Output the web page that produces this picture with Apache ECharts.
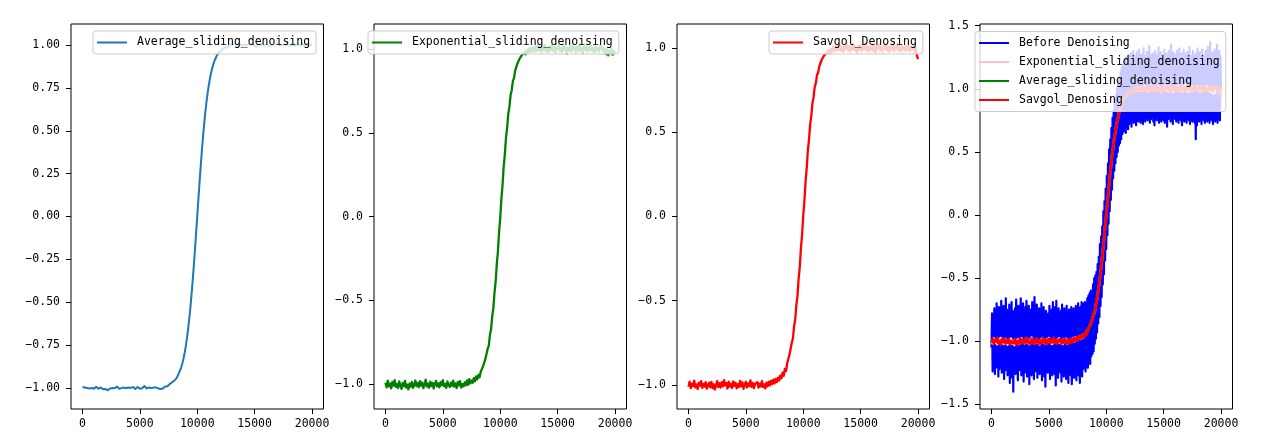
<!DOCTYPE html>
<html><head><meta charset="utf-8">
<script src="https://cdn.jsdelivr.net/npm/echarts@6/dist/echarts.min.js"></script>
<style>html,body{margin:0;padding:0;background:#fff}#c{width:1261px;height:443px}</style>
</head><body><div id="c"></div>
<script>
// sample spacing (x units) of the series below
const smoothStep = 100;
const rawStep = 50;
const xTicks = [0, 5000, 10000, 15000, 20000];
const yTicks1 = [-1, -0.75, -0.5, -0.25, 0, 0.25, 0.5, 0.75, 1];
const yTicks23 = [-1, -0.5, 0, 0.5, 1];
const yTicks4 = [-1.5, -1, -0.5, 0, 0.5, 1, 1.5];
const seriesNames = ['Average_sliding_denoising', 'Exponential_sliding_denoising', 'Savgol_Denosing', 'Before Denoising'];

const avgSliding = [-0.995,-1.003,-0.998,-1.008,-1.002,-0.996,-1.004,-1.010,-1.001,-0.997,
-1.005,-1.002,-0.994,-0.999,-1.006,-1.003,-0.998,-1.004,-1.009,-1.000,
-1.007,-1.013,-1.015,-1.010,-1.004,-0.998,-1.002,-0.995,-1.003,-0.999,
-0.993,-1.001,-1.006,-0.997,-1.002,-1.008,-0.999,-0.994,-1.003,-1.005,
-0.998,-0.992,-1.001,-1.004,-0.996,-1.003,-1.007,-1.000,-0.995,-1.002,
-1.006,-0.999,-1.003,-0.997,-0.990,-0.996,-1.004,-1.001,-0.998,-1.005,
-1.002,-0.995,-0.999,-1.006,-0.998,-0.993,-1.004,-1.009,-1.007,-1.002,
-1.004,-1.012,-0.992,-0.985,-0.991,-0.982,-0.978,-0.984,-0.969,-0.966,
-0.958,-0.952,-0.944,-0.930,-0.920,-0.898,-0.882,-0.858,-0.830,-0.797,
-0.758,-0.712,-0.660,-0.601,-0.533,-0.458,-0.376,-0.288,-0.194,-0.097,
0.003,
0.102,0.199,0.293,0.383,0.464,0.539,0.607,0.666,0.719,0.764,
0.803,0.836,0.865,0.887,0.909,0.924,0.939,0.950,0.958,0.966,
0.972,0.979,0.984,0.981,0.990,0.995,0.988,0.997,1.003,0.996,
1.004,0.998,1.007,1.002,0.995,1.001,1.009,1.005,0.999,0.994,
1.003,1.008,1.001,0.996,1.004,1.011,1.006,0.999,1.002,0.995,
0.991,0.998,1.005,1.002,0.997,1.006,1.010,1.003,0.998,1.001,
1.007,1.002,0.996,0.993,1.001,1.005,0.999,1.004,1.012,1.006,
1.000,0.994,0.999,1.006,1.003,0.997,1.002,1.009,1.004,0.998,
0.995,1.003,1.008,1.001,0.996,1.002,1.007,1.004,0.999,1.005,
1.010,1.003,0.997,1.001,1.006,1.002,0.996,1.000,1.005,1.001];

const expSliding = [-0.990,-1.018,-0.978,-1.012,-0.996,-1.024,-0.985,-1.008,-0.975,-1.015,
-0.998,-1.022,-0.983,-1.006,-1.027,-0.992,-1.011,-0.980,-1.019,-1.002,
-1.030,-0.995,-1.014,-0.986,-1.021,-1.004,-0.977,-1.010,-0.993,-1.017,
-0.981,-1.008,-0.989,-1.023,-1.001,-0.972,-1.013,-0.996,-1.020,-0.984,
-1.009,-0.991,-1.025,-0.998,-0.979,-1.012,-0.994,-1.018,-0.987,-1.006,
-0.975,-1.011,-0.997,-1.021,-0.983,-1.003,-1.016,-0.990,-1.009,-0.978,
-1.014,-0.995,-1.022,-0.986,-1.007,-0.981,-1.019,-0.999,-1.012,-0.988,
-1.006,-0.976,-1.003,-0.969,-0.994,-0.978,-0.990,-0.963,-0.982,-0.952,
-0.970,-0.944,-0.958,-0.925,-0.933,-0.893,-0.895,-0.850,-0.842,-0.789,
-0.770,-0.705,-0.672,-0.594,-0.545,-0.452,-0.388,-0.281,-0.205,-0.090,
-0.008,
0.108,0.190,0.300,0.372,0.471,0.529,0.613,0.656,0.725,0.754,
0.810,0.826,0.871,0.878,0.914,0.915,0.944,0.940,0.965,0.955,
0.981,0.968,0.992,0.975,1.004,0.981,1.010,0.986,1.008,0.983,
1.015,0.988,1.021,0.992,1.009,0.979,1.018,0.996,1.024,0.985,
1.007,0.982,1.016,0.993,1.026,0.989,1.011,0.977,1.013,0.998,
1.022,0.986,1.005,0.981,1.019,0.994,1.012,0.972,1.008,0.990,
1.017,0.984,1.023,0.997,1.010,0.980,1.015,0.991,1.027,0.987,
1.006,0.975,1.014,0.995,1.020,0.983,1.009,0.992,1.018,0.986,
1.011,0.979,1.016,0.990,1.007,0.984,1.021,0.996,1.013,0.981,
1.005,0.970,0.998,0.962,0.990,0.975,1.001,0.966,0.988,0.972];

const savgol = [-1.012,-0.982,-1.020,-0.993,-1.008,-0.976,-1.016,-0.998,-1.025,-0.987,
-1.005,-0.979,-1.018,-0.995,-1.011,-0.984,-1.023,-1.002,-0.988,-1.015,
-0.983,-1.020,-0.997,-1.028,-1.006,-0.978,-1.013,-0.991,-1.017,-0.985,
-1.009,-0.973,-1.004,-0.990,-1.022,-0.982,-1.011,-0.994,-1.019,-0.980,
-1.007,-0.988,-1.021,-0.996,-1.013,-0.977,-1.010,-0.986,-1.024,-0.999,
-0.982,-1.016,-0.992,-1.008,-0.974,-1.012,-0.989,-1.020,-0.995,-1.006,
-0.984,-1.017,-0.993,-1.010,-0.979,-1.014,-0.998,-1.021,-0.987,-1.009,
-0.981,-1.004,-0.976,-0.996,-0.970,-0.992,-0.965,-0.984,-0.958,-0.975,
-0.945,-0.962,-0.928,-0.947,-0.905,-0.918,-0.872,-0.874,-0.821,-0.812,
-0.750,-0.725,-0.652,-0.612,-0.525,-0.470,-0.368,-0.298,-0.185,-0.107,
0.006,
0.092,0.205,0.284,0.391,0.455,0.546,0.597,0.673,0.709,0.770,
0.794,0.842,0.855,0.893,0.898,0.930,0.928,0.955,0.948,0.972,
0.962,0.988,0.970,0.996,0.979,1.006,0.983,1.011,0.987,1.015,
0.989,1.019,0.984,1.008,0.978,1.013,0.995,1.024,0.986,1.010,
0.981,1.017,0.993,1.022,0.985,1.006,0.976,1.012,0.990,1.020,
0.983,1.009,0.996,1.025,0.987,1.014,0.979,1.008,0.992,1.018,
0.984,1.011,0.975,1.016,0.994,1.023,0.988,1.007,0.981,1.015,
0.997,1.021,0.986,1.010,0.978,1.013,0.991,1.019,0.983,1.008,
0.995,1.024,0.987,1.012,0.980,1.017,0.993,1.006,0.985,1.014,
0.990,1.020,0.982,1.009,0.996,1.016,0.979,1.004,0.958,0.935];

const beforeDenoising = [
-1.05,-0.78,-1.24,-0.81,-1.18,-0.74,-1.26,-0.86,-1.21,-0.70,-1.15,-0.79,-1.28,-0.73,-1.22,-0.84,-1.19,-0.68,-1.25,-0.77,
-1.17,-0.72,-1.30,-0.80,-1.23,-0.66,-1.20,-0.75,-1.27,-0.83,-1.16,-0.71,-1.33,-0.78,-1.24,-0.69,-1.29,-0.76,-1.40,-0.82,
-1.21,-0.74,-1.26,-0.67,-1.18,-0.79,-1.31,-0.72,-1.23,-0.85,-1.19,-0.66,-1.27,-0.77,-1.22,-0.70,-1.32,-0.81,-1.25,-0.73,
-1.20,-0.68,-1.28,-0.78,-1.16,-0.72,-1.34,-0.83,-1.22,-0.75,-1.27,-0.69,-1.19,-0.80,-1.30,-0.65,-1.24,-0.76,-1.21,-0.71,
-1.29,-0.79,-1.17,-0.74,-1.26,-0.82,-1.23,-0.70,-1.31,-0.77,-1.20,-0.73,-1.28,-0.84,-1.36,-0.76,-1.22,-0.80,-1.25,-0.78,
-1.18,-0.72,-1.30,-0.81,-1.24,-0.75,-1.27,-0.69,-1.21,-0.77,-1.26,-0.73,-1.35,-0.68,-1.23,-0.79,-1.29,-0.74,-1.19,-0.82,
-1.25,-0.76,-1.32,-0.71,-1.22,-0.79,-1.28,-0.74,-1.20,-0.83,-1.30,-0.72,-1.24,-0.78,-1.33,-0.75,-1.21,-0.80,-1.27,-0.73,
-1.34,-0.77,-1.23,-0.74,-1.29,-0.81,-1.25,-0.72,-1.31,-0.76,-1.20,-0.70,-1.27,-0.75,-1.33,-0.73,-1.22,-0.69,-1.28,-0.71,
-1.22,-0.70,-1.19,-0.69,-1.24,-0.72,-1.17,-0.66,-1.21,-0.64,-1.16,-0.62,-1.18,-0.60,-1.12,-0.63,-1.10,-0.55,-1.08,-0.50,
-1.02,-0.48,-0.98,-0.45,-0.93,-0.39,-0.86,-0.33,-0.81,-0.23,-0.72,-0.17,-0.65,-0.09,-0.55,0.03,-0.47,0.11,-0.36,0.21,
-0.27,0.31,-0.16,0.41,-0.07,0.52,0.03,0.60,0.12,0.69,0.20,0.77,0.29,0.83,0.35,0.91,0.41,0.95,0.46,1.01,
0.50,1.06,0.55,1.09,0.57,1.13,0.60,1.16,0.64,1.19,0.66,1.22,0.69,1.20,0.65,1.25,0.71,1.23,0.68,1.27,
0.72,1.24,0.75,1.28,0.70,1.21,0.77,1.30,0.73,1.26,0.79,1.22,0.71,1.29,0.76,1.25,0.74,1.31,0.78,1.23,
0.73,1.27,0.76,1.20,0.72,1.32,0.79,1.26,0.74,1.23,0.77,1.29,0.75,1.24,0.80,1.34,0.73,1.27,0.76,1.22,
0.78,1.28,0.74,1.25,0.71,1.30,0.77,1.21,0.75,1.27,0.79,1.33,0.73,1.24,0.76,1.29,0.74,1.26,0.80,1.23,
0.75,1.31,0.73,1.25,0.77,1.28,0.70,1.22,0.76,1.30,0.78,1.26,0.74,1.35,0.77,1.24,0.72,1.29,0.79,1.27,
0.76,1.23,0.74,1.30,0.78,1.26,0.73,1.32,0.77,1.25,0.75,1.28,0.71,1.24,0.79,1.31,0.74,1.27,0.76,1.22,
0.73,1.29,0.77,1.25,0.75,1.33,0.72,1.26,0.78,1.24,0.74,1.30,0.76,1.27,0.73,1.23,0.60,1.28,0.71,1.32,
0.77,1.25,0.74,1.29,0.76,1.22,0.72,1.31,0.78,1.26,0.75,1.24,0.73,1.30,0.77,1.27,0.74,1.33,0.76,1.25,
0.73,1.37,0.77,1.26,0.75,1.29,0.72,1.23,0.78,1.31,0.74,1.27,0.76,1.35,0.73,1.24,0.79,1.30,0.75,1.26,
0.98];

const FONT = 'DejaVu Sans Mono';
const FS = 11.5;
const fmt = d => v => (v < 0 ? '\u2212' : '') + Math.abs(v).toFixed(d);

const gridLefts = [71, 374, 677, 980];
const yRanges = [[-1.124, 1.124], [-1.147, 1.149], [-1.144, 1.144], [-1.537, 1.513]];
const yTickSets = [yTicks1, yTicks23, yTicks23, yTicks4];
const yDec = [2, 1, 1, 1];

const grid = gridLefts.map(l => ({left: l, top: 24, width: 252.5, height: 385, show: true, borderColor: '#000', borderWidth: 1, backgroundColor: 'transparent'}));
const xAxis = gridLefts.map((l, i) => ({
  type: 'value', gridIndex: i, min: -1000, max: 21000, position: 'bottom',
  axisLine: {show: false, onZero: false}, splitLine: {show: false},
  axisTick: {show: true, length: 5, inside: false, lineStyle: {color: '#000', width: 1}, customValues: xTicks},
  axisLabel: {customValues: xTicks, margin: 9, color: '#000', fontFamily: FONT, fontSize: FS, formatter: v => String(v)}
}));
const yAxis = gridLefts.map((l, i) => ({
  type: 'value', gridIndex: i, min: yRanges[i][0], max: yRanges[i][1], position: 'left',
  axisLine: {show: false, onZero: false}, splitLine: {show: false},
  axisTick: {show: true, length: 5, inside: false, lineStyle: {color: '#000', width: 1}, customValues: yTickSets[i]},
  axisLabel: {customValues: yTickSets[i], margin: 11, color: '#000', fontFamily: FONT, fontSize: FS, formatter: fmt(yDec[i])}
}));

function mk(name, panel, arr, step, color, width) {
  return {
    type: 'line', name: name + '#' + panel, xAxisIndex: panel - 1, yAxisIndex: panel - 1,
    data: arr.map((v, i) => [i * step, v]),
    symbol: 'none', showSymbol: false, silent: true, animation: false,
    lineStyle: {color: color, width: width, join: 'round'}, itemStyle: {color: color}
  };
}

const series = [
  mk(seriesNames[0], 1, avgSliding, smoothStep, '#1f77b4', 2),
  mk(seriesNames[1], 2, expSliding, smoothStep, '#008000', 2.3),
  mk(seriesNames[2], 3, savgol, smoothStep, '#ff0000', 2.3),
  mk(seriesNames[3], 4, beforeDenoising, rawStep, '#0000ff', 2.2),
  mk(seriesNames[1], 4, expSliding, smoothStep, '#ffc0cb', 2.6),
  mk(seriesNames[0], 4, avgSliding, smoothStep, '#008000', 2.6),
  mk(seriesNames[2], 4, savgol, smoothStep, '#ff0000', 2.8)
];

const legendBase = {
  icon: 'rect', itemWidth: 30, itemHeight: 2, itemGap: 5, orient: 'vertical',
  padding: [4.5, 6, 4.5, 4], backgroundColor: 'rgba(255,255,255,0.8)',
  borderColor: '#cccccc', borderWidth: 1, borderRadius: 3, selectedMode: false,
  textStyle: {fontFamily: FONT, fontSize: FS, color: '#000', lineHeight: 14, padding: [0, 0, 0, 5]},
  formatter: n => n.split('#')[0]
};
const legend = [
  Object.assign({}, legendBase, {left: 93, top: 31, data: [seriesNames[0] + '#1']}),
  Object.assign({}, legendBase, {left: 368, top: 31, data: [seriesNames[1] + '#2']}),
  Object.assign({}, legendBase, {left: 769, top: 31, data: [seriesNames[2] + '#3']}),
  Object.assign({}, legendBase, {left: 975, top: 31.5, data: [seriesNames[3] + '#4', seriesNames[1] + '#4', seriesNames[0] + '#4', seriesNames[2] + '#4']})
];

const chart = echarts.init(document.getElementById('c'), null, {renderer: 'canvas'});
chart.setOption({animation: false, backgroundColor: '#fff', grid, xAxis, yAxis, series, legend});
</script>
</body></html>
